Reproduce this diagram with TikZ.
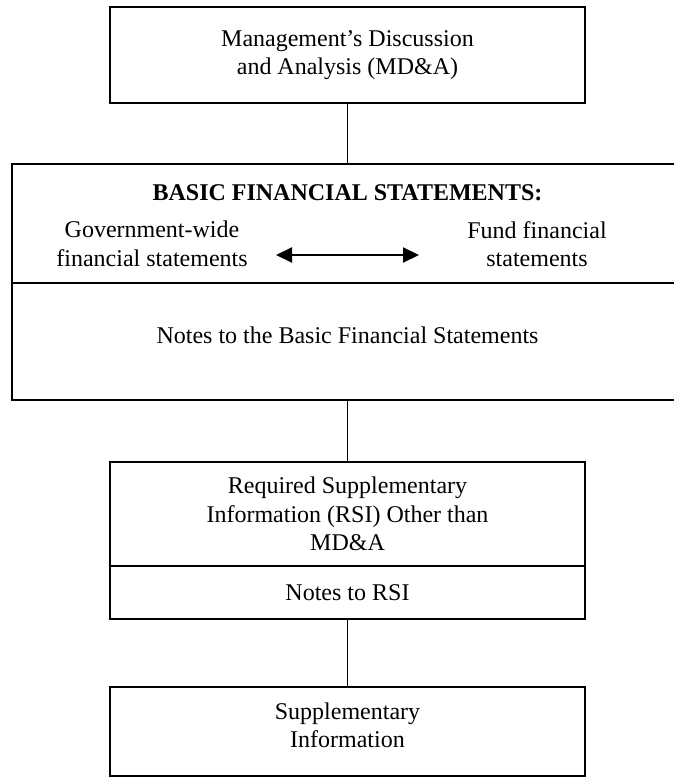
\documentclass[tikz,border=0pt]{standalone}
\usepackage{fontspec}
\setmainfont{Liberation Serif}
\usetikzlibrary{arrows.meta}
\newcommand\diafont{\fontsize{24}{28.5}\selectfont}
\begin{document}
\begin{tikzpicture}[x=1pt,y=-1pt,
  box/.style={draw, line width=2.8pt, inner sep=0pt, outer sep=0pt, minimum width=475pt, font=\diafont, align=center},
  txt/.style={font=\diafont, align=center, inner sep=0pt},
  conn/.style={line width=1.6pt},
  rulebar/.style={line width=2.8pt},
  dblarrow/.style={line width=2pt, {Triangle[length=16pt,width=15pt]}-{Triangle[length=16pt,width=15pt]}}
]
\useasboundingbox (0,0) rectangle (673,779);
% top box
\node[box, minimum height=96pt] (mda) at (347.5,55) {Management’s Discussion\\and Analysis (MD\&A)};
% basic financial statements box (right side runs off the page)
\node[box, minimum width=678pt, minimum height=236pt] (bfs) at (351,282) {};
\coordinate (divL) at (12,283);
\draw[rulebar] (divL) -- (divL -| bfs.east);
\node[txt, font=\diafont\bfseries, anchor=base] (title) at (347.5,200) {BASIC FINANCIAL STATEMENTS:};
\node[txt] (gov) at (152,244) {Government-wide\\financial statements};
\node[txt] (fund) at (537,244) {Fund financial\\statements};
\coordinate (aL) at (276,255);
\coordinate (aR) at (419,255);
\draw[dblarrow] (aL) -- (aR);
\node[txt] (notes) at (347.5,335) {Notes to the Basic Financial Statements};
% RSI
\node[box, minimum height=104pt] (rsi) at (347.5,514) {Required Supplementary\\Information (RSI) Other than\\MD\&A};
\node[box, minimum height=53pt] (rsin) at (347.5,592.5) {Notes to RSI};
% supplementary
\node[box, minimum height=89pt] (supp) at (347.5,731.5) {};
\node[txt] (supptxt) at (347.5,725.3) {Supplementary\\Information};
% connectors
\draw[conn] (mda.south) -- (mda.south |- bfs.north);
\draw[conn] (rsi.north |- bfs.south) -- (rsi.north);
\draw[conn] (rsin.south) -- (supp.north);
\end{tikzpicture}
\end{document}
